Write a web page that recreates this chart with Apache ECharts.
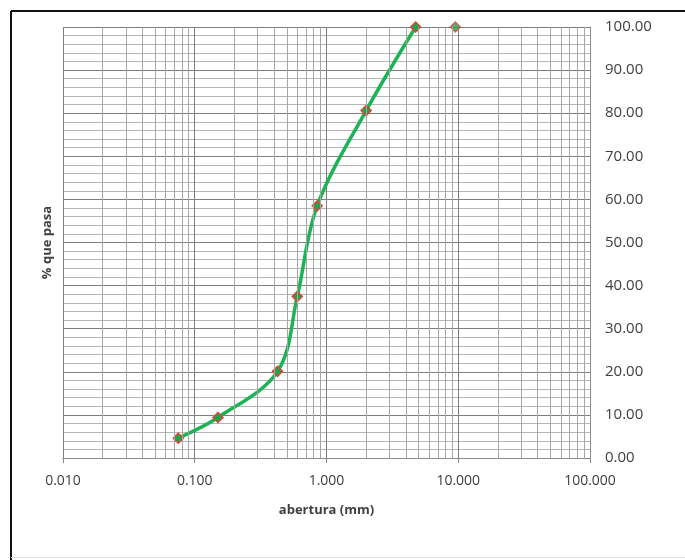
<!DOCTYPE html>
<html>
<head>
<meta charset="utf-8">
<script src="https://cdn.jsdelivr.net/npm/echarts@6/dist/echarts.min.js"></script>
<style>
html,body{margin:0;padding:0;background:#fff;}
#chart{width:685px;height:560px;}
</style>
</head>
<body>
<div id="chart"></div>
<script>
// Data
var aperture = [0.075, 0.15, 0.425, 0.6, 0.85, 2.0, 4.75];
var percentPassing = [4.6, 9.4, 20.1, 37.5, 58.5, 80.6, 100.0];
var extraAperture = [9.5];
var extraPercent = [100.0];
var xTickLabels = ['0.010', '0.100', '1.000', '10.000', '100.000'];
var xTitle = 'abertura (mm)';
var yTitle = '% que pasa';

var mainData = aperture.map(function (x, i) { return [x, percentPassing[i]]; });
var extraData = extraAperture.map(function (x, i) { return [x, extraPercent[i]]; });

// log minor grid positions (2..9 within each decade)
var minorX = [];
[0.01, 0.1, 1, 10].forEach(function (d) {
  for (var m = 2; m <= 9; m++) minorX.push({ xAxis: +(d * m).toPrecision(3) });
});

var fontFam = '"Open Sans", "Liberation Sans", sans-serif';
var chart = echarts.init(document.getElementById('chart'), null, { renderer: 'canvas' });
chart.setOption({
  backgroundColor: '#ffffff',
  animation: false,
  graphic: [
    { type: 'line', shape: { x1: 11, y1: 11, x2: 685, y2: 11 }, style: { stroke: '#111', lineWidth: 2 }, silent: true },
    { type: 'line', shape: { x1: 11, y1: 11, x2: 11, y2: 560 }, style: { stroke: '#111', lineWidth: 2 }, silent: true },
    { type: 'line', shape: { x1: 11, y1: 557.5, x2: 685, y2: 557.5 }, style: { stroke: '#e0e0e0', lineWidth: 1 }, silent: true }
  ],
  grid: { left: 63, right: 95, top: 27, bottom: 102, containLabel: false },
  xAxis: {
    type: 'log', logBase: 10, min: 0.01, max: 100,
    name: xTitle, nameLocation: 'middle', nameGap: 46,
    nameTextStyle: { fontFamily: fontFam, fontSize: 13, fontWeight: 'bold', color: '#404040' },
    axisLine: { show: true, lineStyle: { color: '#8a8a8a', width: 1 } },
    axisTick: { show: true, length: 5, lineStyle: { color: '#8a8a8a' } },
    axisLabel: {
      margin: 16, fontFamily: fontFam, fontSize: 14, color: '#404040',
      formatter: function (v) {
        var i = Math.round(Math.log10(v)) + 2;
        return xTickLabels[i] !== undefined ? xTickLabels[i] : '';
      }
    },
    splitLine: { show: true, lineStyle: { color: '#7f7f7f', width: 1 } }
  },
  yAxis: {
    type: 'value', position: 'right', min: 0, max: 100, interval: 10,
    name: yTitle, nameLocation: 'middle', nameRotate: 90, nameGap: -(685 - 95 - 63) - 22,
    nameTextStyle: { fontFamily: fontFam, fontSize: 13, fontWeight: 'bold', color: '#404040' },
    axisLine: { show: true, lineStyle: { color: '#8a8a8a' } },
    axisTick: { show: false },
    axisLabel: {
      margin: 15, fontFamily: fontFam, fontSize: 15, color: '#404040',
      formatter: function (v) { return v.toFixed(2); }
    },
    splitLine: { show: true, lineStyle: { color: '#7f7f7f', width: 1 } },
    minorTick: { show: false, splitNumber: 5 },
    minorSplitLine: { show: true, lineStyle: { color: '#b5b5b5', width: 1 } }
  },
  series: [
    {
      type: 'line', data: [], silent: true,
      markLine: {
        silent: true, symbol: ['none', 'none'], label: { show: false },
        lineStyle: { color: '#a6a6a6', width: 1, type: 'solid' },
        data: minorX, animation: false
      },
      z: 1
    },
    {
      type: 'line', data: mainData, smooth: 0.35,
      symbol: 'diamond', symbolSize: 10,
      lineStyle: { color: '#1db354', width: 3.5 },
      itemStyle: { color: '#1aa64a', borderColor: '#d9473a', borderWidth: 1.5 },
      z: 3
    },
    {
      type: 'scatter', data: extraData,
      symbol: 'diamond', symbolSize: 10,
      itemStyle: { color: '#1aa64a', borderColor: '#d9473a', borderWidth: 1.5 },
      z: 3
    }
  ]
});
</script>
</body>
</html>
